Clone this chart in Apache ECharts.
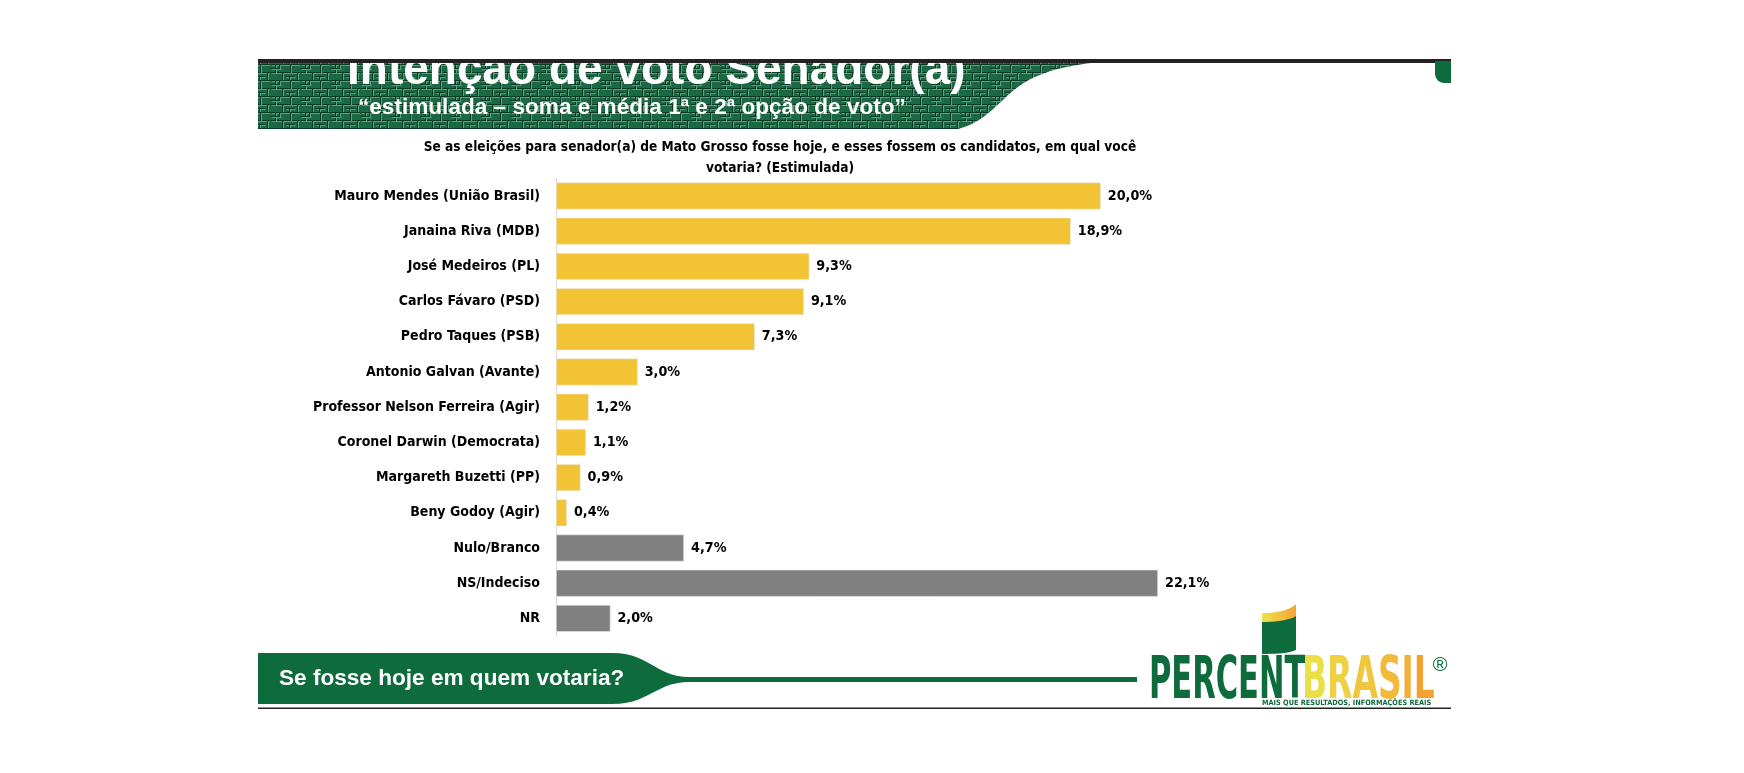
<!DOCTYPE html>
<html lang="pt-BR">
<head>
<meta charset="utf-8">
<title>Intenção de voto Senador(a)</title>
<script src="https://cdn.jsdelivr.net/npm/echarts@6/dist/echarts.min.js"></script>
<style>
  html, body { margin: 0; padding: 0; background: #fff; }
  #chart { width: 1744px; height: 773px; }
</style>
</head>
<body>
<div id="chart"></div>
<script>
const candidateNames = [
    'Mauro Mendes (União Brasil)',
    'Janaina Riva (MDB)',
    'José Medeiros (PL)',
    'Carlos Fávaro (PSD)',
    'Pedro Taques (PSB)',
    'Antonio Galvan (Avante)',
    'Professor Nelson Ferreira (Agir)',
    'Coronel Darwin (Democrata)',
    'Margareth Buzetti (PP)',
    'Beny Godoy (Agir)'
];
const candidateValues = [20.0, 18.9, 9.3, 9.1, 7.3, 3.0, 1.2, 1.1, 0.9, 0.4];

const otherNames = ['Nulo/Branco', 'NS/Indeciso', 'NR'];
const otherValues = [4.7, 22.1, 2.0];

const headerTitle = 'Intenção de voto Senador(a)';
const headerSubtitle = '\u201Cestimulada \u2013 soma e média 1ª e 2ª opção de voto\u201D';
const question = 'Se as eleições para senador(a) de Mato Grosso fosse hoje, e esses fossem os candidatos, em qual você\nvotaria? (Estimulada)';
const footerText = 'Se fosse hoje em quem votaria?';

const YELLOW = '#F2C335';
const GREY = '#808080';
const GREEN = '#0d6b3c';
const NARROW = "'Liberation Sans Narrow', 'Arial Narrow', 'DejaVu Sans Condensed', sans-serif";
const SANS = "'Liberation Sans', Arial, sans-serif";

const categories = candidateNames.concat(otherNames);
const barData = candidateValues.map(v => ({ value: v, itemStyle: { color: YELLOW } }))
    .concat(otherValues.map(v => ({ value: v, itemStyle: { color: GREY } })));

// sample a cubic bezier into polygon points (decoration only)
function bez(p0, p1, p2, p3, n) {
    const pts = [];
    for (let i = 0; i <= n; i++) {
        const t = i / n, u = 1 - t;
        pts.push([
            u * u * u * p0[0] + 3 * u * u * t * p1[0] + 3 * u * t * t * p2[0] + t * t * t * p3[0],
            u * u * u * p0[1] + 3 * u * u * t * p1[1] + 3 * u * t * t * p2[1] + t * t * t * p3[1]
        ]);
    }
    return pts;
}

function makeTexture() {
    const c = document.createElement('canvas');
    c.width = 30; c.height = 16;
    const g = c.getContext('2d');
    g.fillStyle = '#1a6944';
    g.fillRect(0, 0, 30, 16);
    const joints = [[0, 0, 30, 0], [0, 8, 30, 8], [5, 0, 5, 8], [20, 0, 20, 8], [12, 8, 12, 16], [27, 8, 27, 16],
        [0, 4, 10, 4], [15, 12, 24, 12], [9, 0, 9, 4], [19, 12, 19, 16]];
    g.lineWidth = 1;
    joints.forEach(([x1, y1, x2, y2]) => {
        g.strokeStyle = '#0a3b25';
        g.beginPath(); g.moveTo(x1 + 0.5, y1 + 0.5); g.lineTo(x2 + 0.5, y2 + 0.5); g.stroke();
        g.strokeStyle = '#55a47e';
        g.beginPath(); g.moveTo(x1 + 1.5, y1 + 1.5); g.lineTo(x2 + 1.5, y2 + 1.5); g.stroke();
    });
    return c;
}

const bannerShape = [[258, 61], [1110, 61]]
    .concat(bez([1110, 61], [1050, 66], [1025, 78], [1005, 98], 14))
    .concat(bez([1005, 98], [990, 112], [978, 124], [958, 129], 10))
    .concat([[258, 129]]);

const footerShape = [[258, 653], [612, 653]]
    .concat(bez([612, 653], [650, 653], [655, 677], [690, 677], 14))
    .concat([[1137, 677], [1137, 682], [690, 682]])
    .concat(bez([690, 682], [655, 682], [650, 704], [612, 704], 14))
    .concat([[258, 704]]);

const iconYellow = bez([1262, 613], [1278, 613], [1290, 610], [1296, 604], 10)
    .concat(bez([1296, 617], [1290, 621], [1278, 623], [1262, 623], 10));
const iconGreen = bez([1262, 622], [1278, 622], [1290, 620], [1296, 616], 10)
    .concat(bez([1296, 650], [1290, 653], [1278, 654], [1262, 654], 10));

const brasilColors = ['#ebdf48', '#eed243', '#f0c63f', '#f2b93a', '#f3ae35', '#f4a22f'];
const brasilRich = {};
brasilColors.forEach((c, i) => { brasilRich['c' + i] = { fill: c, font: 'bold 59px ' + NARROW }; });
const brasilText = 'BRASIL'.split('').map((ch, i) => '{c' + i + '|' + ch + '}').join('');

const chart = echarts.init(document.getElementById('chart'), null, { renderer: 'canvas' });

const option = {
    backgroundColor: '#fff',
    animation: false,
    grid: { left: 556, top: 178.4, width: 681, height: 457.6, containLabel: false },
    xAxis: {
        type: 'value',
        min: 0,
        max: 25,
        show: false
    },
    yAxis: {
        type: 'category',
        data: categories,
        inverse: true,
        axisLine: { show: true, lineStyle: { color: '#d9d9d9', width: 1 } },
        axisTick: { show: false },
        splitLine: { show: false },
        axisLabel: {
            margin: 16,
            color: '#000',
            fontFamily: NARROW,
            fontWeight: 'bold',
            fontSize: 14
        }
    },
    series: [
        {
            type: 'bar',
            data: barData,
            barWidth: 27,
            itemStyle: { borderColor: '#ececec', borderWidth: 0.6 },
            label: {
                show: true,
                position: 'right',
                distance: 7,
                color: '#000',
                fontFamily: NARROW,
                fontWeight: 'bold',
                fontSize: 14.2,
                formatter: p => p.value.toFixed(1).replace('.', ',') + '%'
            }
        }
    ],
    graphic: [
        // header banner
        { type: 'polygon', shape: { points: bannerShape }, style: { fill: { image: makeTexture(), repeat: 'repeat' } }, z: 1 },
        {
            type: 'text', x: 347, y: 71, z: 2,
            style: { text: headerTitle, fill: '#fff', font: 'bold 46px ' + SANS, textAlign: 'left', textVerticalAlign: 'middle' }
        },
        {
            type: 'text', x: 358, y: 107.5, z: 2,
            style: { text: headerSubtitle, fill: '#fff', font: 'bold 22.6px ' + SANS, textAlign: 'left', textVerticalAlign: 'middle' }
        },
        { type: 'rect', shape: { x: 0, y: 0, width: 1744, height: 59 }, style: { fill: '#fff' }, z: 3 },
        { type: 'rect', shape: { x: 258, y: 59, width: 1193, height: 4 }, style: { fill: '#222' }, z: 4 },
        { type: 'rect', shape: { x: 1435, y: 61, width: 16, height: 22, r: [0, 0, 0, 9] }, style: { fill: GREEN }, z: 4 },
        // question
        {
            type: 'text', x: 780, y: 157.5, z: 2,
            style: {
                text: question, fill: '#000', font: 'bold 13.6px ' + NARROW,
                textAlign: 'center', textVerticalAlign: 'middle', lineHeight: 21
            }
        },
        // footer
        { type: 'polygon', shape: { points: footerShape }, style: { fill: GREEN }, z: 1 },
        {
            type: 'text', x: 279, y: 679, z: 2,
            style: { text: footerText, fill: '#fff', font: 'bold 22.6px ' + SANS, textAlign: 'left', textVerticalAlign: 'middle' }
        },
        { type: 'rect', shape: { x: 258, y: 707.5, width: 1193, height: 1.5 }, style: { fill: '#222' }, z: 2 },
        // logo
        {
            type: 'polygon', shape: { points: iconYellow }, z: 2,
            style: { fill: { type: 'linear', x: 0, y: 0, x2: 1, y2: 0, colorStops: [{ offset: 0, color: '#ece24a' }, { offset: 1, color: '#f4a533' }] } }
        },
        { type: 'polygon', shape: { points: iconGreen }, style: { fill: GREEN }, z: 2 },
        {
            type: 'text', x: 1149, y: 682.5, scaleX: 0.575, z: 2,
            style: { text: 'PERCENT', fill: GREEN, font: 'bold 59px ' + NARROW, textAlign: 'left', textVerticalAlign: 'middle' }
        },
        {
            type: 'text', x: 1302, y: 682.5, scaleX: 0.62, z: 2,
            style: { text: brasilText, rich: brasilRich, font: 'bold 59px ' + NARROW, textAlign: 'left', textVerticalAlign: 'middle' }
        },
        {
            type: 'text', x: 1440, y: 665, z: 2,
            style: { text: '®', fill: GREEN, font: '20px ' + SANS, textAlign: 'center', textVerticalAlign: 'middle' }
        },
        {
            type: 'text', x: 1262, y: 703, z: 2,
            style: { text: 'MAIS QUE RESULTADOS, INFORMAÇÕES REAIS', fill: GREEN, font: 'bold 7.3px ' + NARROW, textAlign: 'left', textVerticalAlign: 'middle' }
        }
    ]
};

chart.setOption(option);
</script>
</body>
</html>
